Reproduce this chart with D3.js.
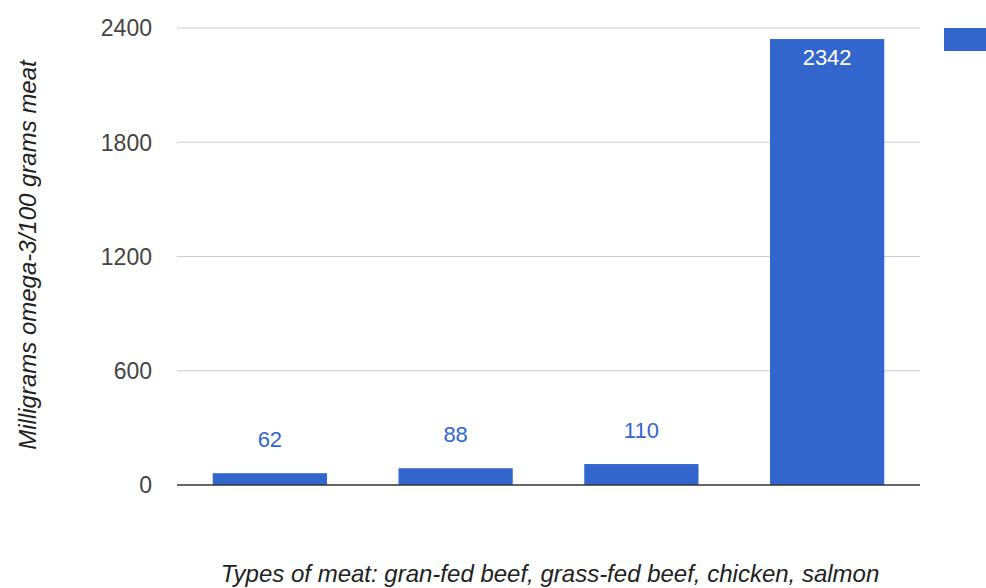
<!DOCTYPE html>
<html>
<head>
<meta charset="utf-8">
<script src="https://cdn.jsdelivr.net/npm/d3@7"></script>
<style>
  body { margin: 0; background: #fff; }
  svg { display: block; font-family: "Liberation Sans", Arial, sans-serif; }
</style>
</head>
<body>
<svg width="986" height="588"></svg>
<script>
// data
const categories = ["gran-fed beef", "grass-fed beef", "chicken", "salmon"];
const omega3 = [62, 88, 110, 2342];
const yTicks = [0, 600, 1200, 1800, 2400];

const svg = d3.select("svg");
const margin = { left: 177, right: 66, top: 28, bottom: 103 };
const width = 986, height = 588;
const blue = "#3366cc";

const x = d3.scaleBand()
  .domain(categories)
  .range([margin.left, width - margin.right])
  .paddingInner(0.385)
  .paddingOuter(0.1925);

const y = d3.scaleLinear()
  .domain([0, 2400])
  .range([height - margin.bottom, margin.top]);

// gridlines
svg.append("g")
  .selectAll("line")
  .data(yTicks.filter(d => d > 0))
  .join("line")
  .attr("x1", margin.left)
  .attr("x2", width - margin.right)
  .attr("y1", d => y(d))
  .attr("y2", d => y(d))
  .attr("stroke", "#cccccc")
  .attr("stroke-width", 1);

// y tick labels
svg.append("g")
  .selectAll("text")
  .data(yTicks)
  .join("text")
  .attr("x", 152)
  .attr("y", d => y(d))
  .attr("dy", "0.36em")
  .attr("text-anchor", "end")
  .attr("font-size", 23)
  .attr("fill", "#444")
  .text(d => d);

const data = categories.map((c, i) => ({ c, v: omega3[i] }));

// bars
svg.append("g")
  .selectAll("rect")
  .data(data)
  .join("rect")
  .attr("x", d => x(d.c))
  .attr("width", x.bandwidth())
  .attr("y", d => y(d.v))
  .attr("height", d => y(0) - y(d.v))
  .attr("fill", blue);

// baseline
svg.append("line")
  .attr("x1", margin.left)
  .attr("x2", width - margin.right)
  .attr("y1", y(0))
  .attr("y2", y(0))
  .attr("stroke", "#333")
  .attr("stroke-width", 1.5);

// value labels
svg.append("g")
  .selectAll("text")
  .data(data)
  .join("text")
  .attr("x", d => x(d.c) + x.bandwidth() / 2)
  .attr("y", d => (d.v > 1000 ? y(d.v) + 26 : y(d.v) - 26))
  .attr("text-anchor", "middle")
  .attr("font-size", 22)
  .attr("fill", d => (d.v > 1000 ? "#fff" : blue))
  .text(d => d.v);

// legend swatch (cut off at right edge)
svg.append("rect")
  .attr("x", 944)
  .attr("y", 28)
  .attr("width", 60)
  .attr("height", 23)
  .attr("fill", blue);

// axis titles
svg.append("text")
  .attr("transform", `translate(36,255) rotate(-90)`)
  .attr("text-anchor", "middle")
  .attr("font-size", 24)
  .attr("font-style", "italic")
  .attr("fill", "#222")
  .text("Milligrams omega-3/100 grams meat");

svg.append("text")
  .attr("x", 550)
  .attr("y", 582)
  .attr("text-anchor", "middle")
  .attr("font-size", 24)
  .attr("font-style", "italic")
  .attr("fill", "#222")
  .text("Types of meat: gran-fed beef, grass-fed beef, chicken, salmon");
</script>
</body>
</html>
